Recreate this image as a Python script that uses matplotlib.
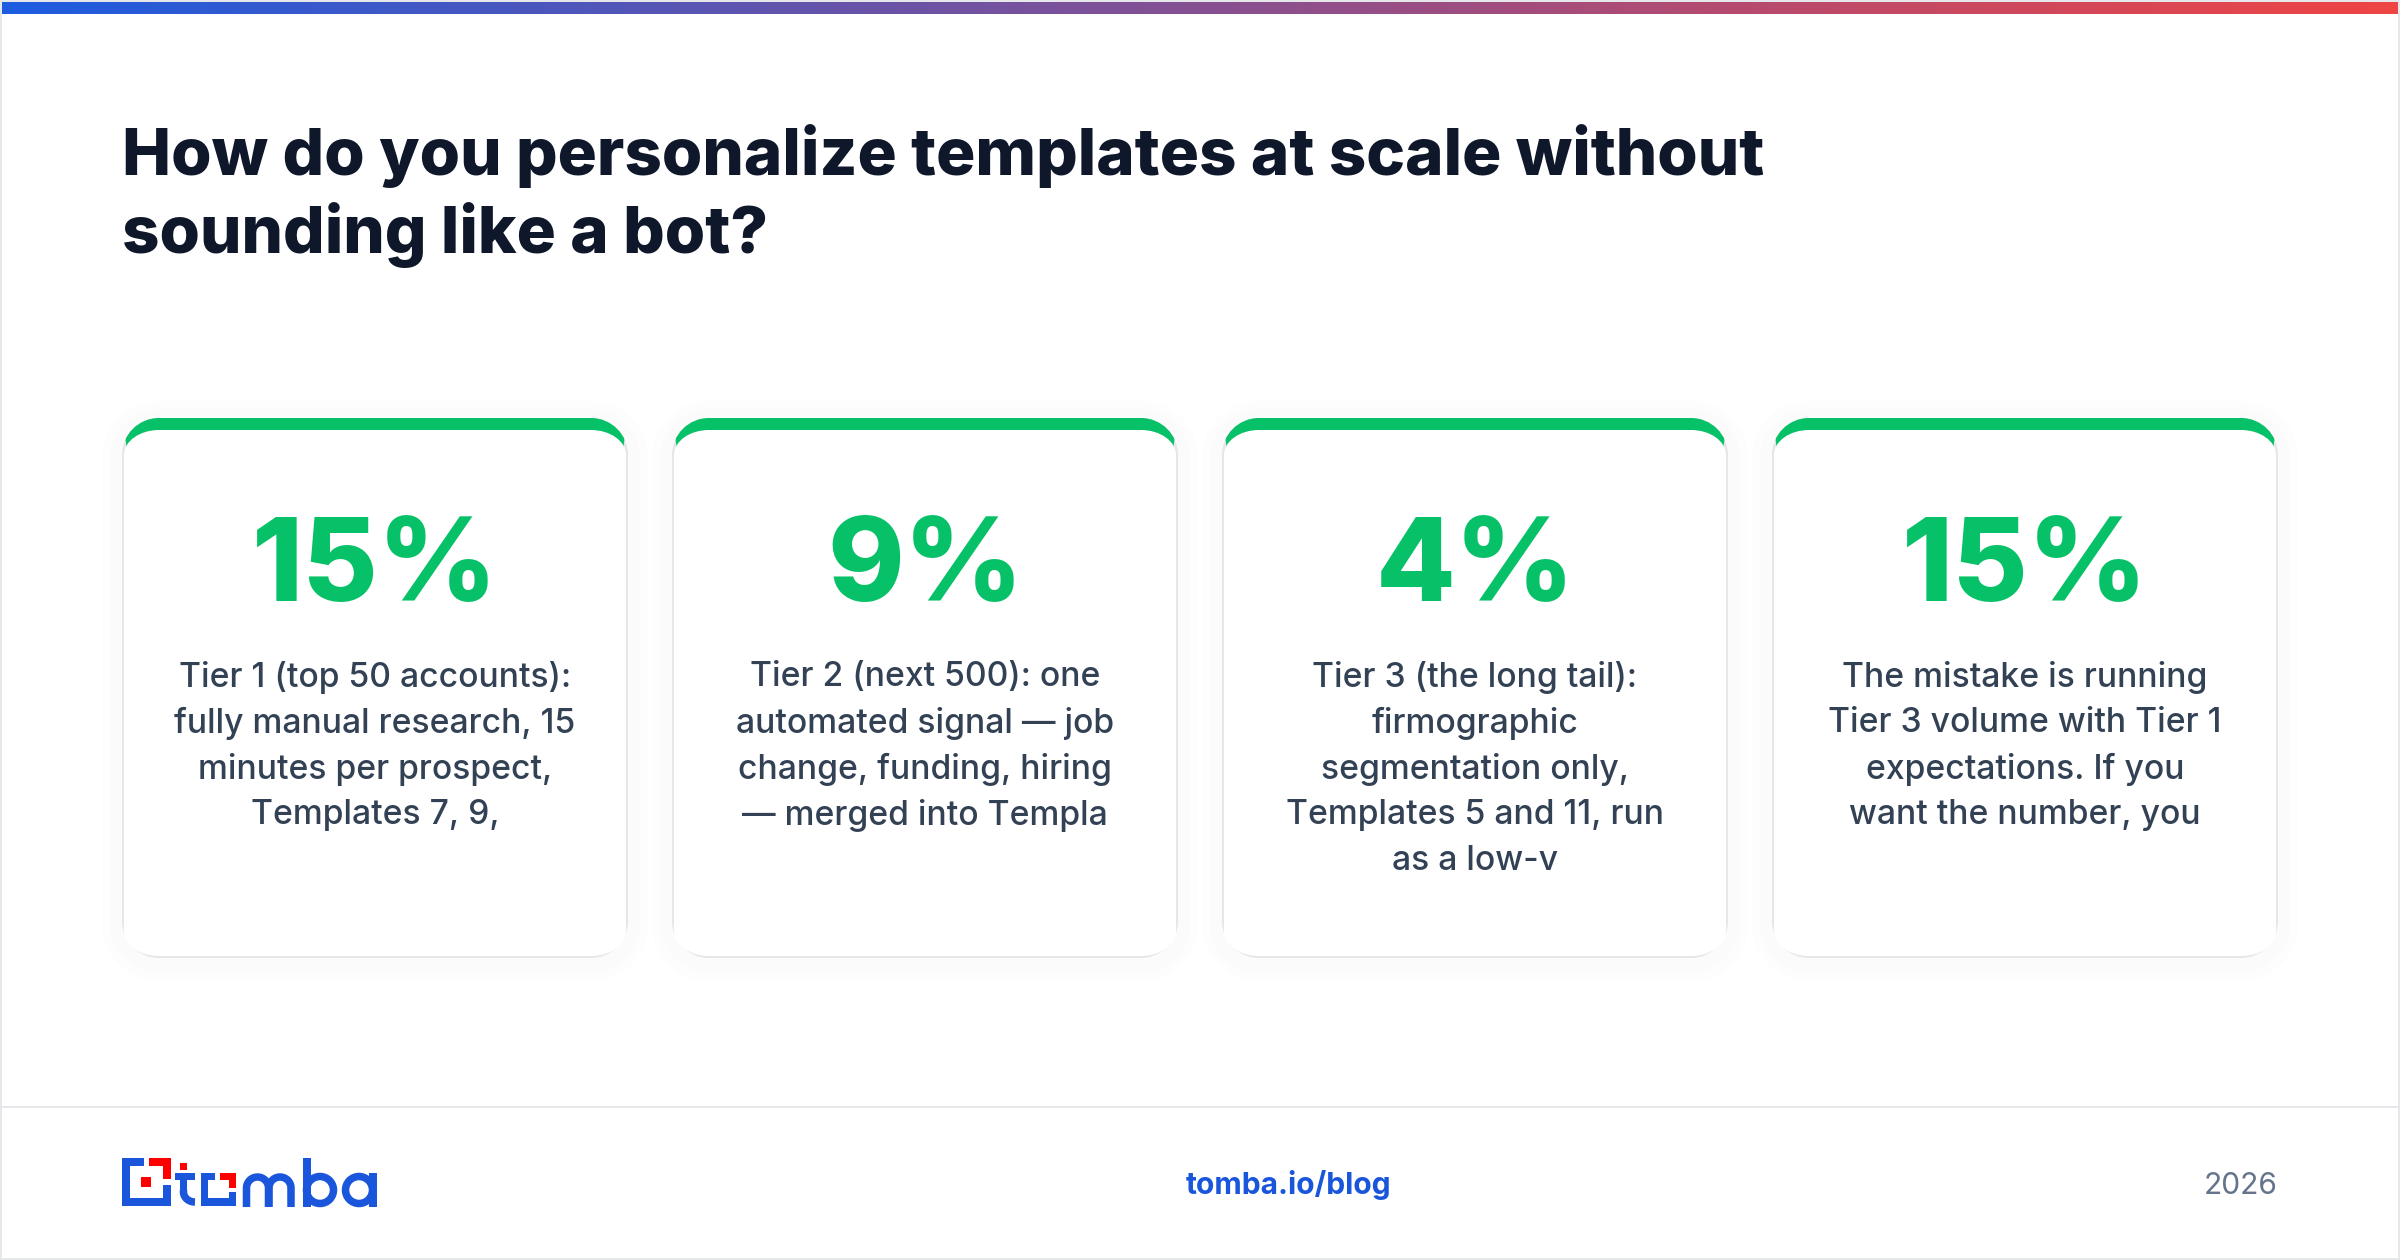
import numpy as np
import matplotlib
matplotlib.use('Agg')
import matplotlib.pyplot as plt
from matplotlib.path import Path
from matplotlib.patches import PathPatch, Rectangle, Polygon, Circle
from matplotlib.colors import LinearSegmentedColormap

# Card contents
title_lines = ['How do you personalize templates at scale without', 'sounding like a bot?']
card_values = ['15%', '9%', '4%', '15%']
card_texts = [
    ['Tier 1 (top 50 accounts):', 'fully manual research, 15', 'minutes per prospect,', 'Templates 7, 9,'],
    ['Tier 2 (next 500): one', 'automated signal \u2014 job', 'change, funding, hiring', '\u2014 merged into Templa'],
    ['Tier 3 (the long tail):', 'firmographic', 'segmentation only,', 'Templates 5 and 11, run', 'as a low-v'],
    ['The mistake is running', 'Tier 3 volume with Tier 1', 'expectations. If you', 'want the number, you'],
]
footer_link = 'tomba.io/blog'
footer_year = '2026'

GREEN = '#06c167'
NAVY = '#0f172a'
SLATE = '#334155'
BLUE = '#1a56db'
RED = '#ff0000'
BORDER = '#e5e7eb'

plt.rcParams['font.family'] = ['Inter', 'DejaVu Sans']
PT = 72 / 200  # one pixel in points


def rounded(x0, y0, x1, y1, rx, ry):
    k = 0.5523
    verts = [(x0 + rx, y0), (x1 - rx, y0),
             (x1 - rx + k * rx, y0), (x1, y0 + ry - k * ry), (x1, y0 + ry),
             (x1, y1 - ry),
             (x1, y1 - ry + k * ry), (x1 - rx + k * rx, y1), (x1 - rx, y1),
             (x0 + rx, y1),
             (x0 + rx - k * rx, y1), (x0, y1 - ry + k * ry), (x0, y1 - ry),
             (x0, y0 + ry),
             (x0, y0 + ry - k * ry), (x0 + rx - k * rx, y0), (x0 + rx, y0),
             (x0 + rx, y0)]
    codes = [Path.MOVETO, Path.LINETO,
             Path.CURVE4, Path.CURVE4, Path.CURVE4,
             Path.LINETO,
             Path.CURVE4, Path.CURVE4, Path.CURVE4,
             Path.LINETO,
             Path.CURVE4, Path.CURVE4, Path.CURVE4,
             Path.LINETO,
             Path.CURVE4, Path.CURVE4, Path.CURVE4,
             Path.CLOSEPOLY]
    return Path(verts, codes)


fig = plt.figure(figsize=(12, 6.3), dpi=200, facecolor='white')
ax = fig.add_axes([0, 0, 1, 1])
ax.set_xlim(0, 2400)
ax.set_ylim(1260, 0)
ax.axis('off')

# gradient strip on top
cmap = LinearSegmentedColormap.from_list('strip', ['#1d5ce0', '#ef4444'])
ax.imshow(np.linspace(0, 1, 600).reshape(1, -1), cmap=cmap, extent=(2, 2398, 14, 2), aspect='auto', zorder=3)
ax.set_xlim(0, 2400)
ax.set_ylim(1260, 0)

# frame and footer line
ax.add_patch(Rectangle((1, 1), 2398, 1258, fill=False, ec=BORDER, lw=2 * PT, zorder=2))
ax.plot([0, 2400], [1107, 1107], color=BORDER, lw=2 * PT, zorder=2, solid_capstyle='butt')

for i, t in enumerate(title_lines):
    ax.text(122, 156 + i * 79, t, fontsize=65.5 * PT, fontweight=800, color=NAVY, va='center', ha='left')

# cards
x_starts = [122, 672, 1222, 1772]
W = 506
Y0, Y1 = 418, 958
R = 37
for x, val, lines in zip(x_starts, card_values, card_texts):
    outer = rounded(x, Y0, x + W, Y1, R, R)
    for lw, a in zip([40, 24], [0.008, 0.008]):
        ax.add_patch(PathPatch(rounded(x, Y0 + 3, x + W, Y1 + 3, R, R), fc='none', ec='#1e293b',
                               lw=lw * PT, alpha=a, zorder=4))
    ax.add_patch(PathPatch(outer, fc=BORDER, ec='none', zorder=5))
    green = PathPatch(outer, fc=GREEN, ec='none', zorder=6)
    ax.add_patch(green)
    clip = Polygon([(x, Y0), (x + W, Y0), (x + W - 6, Y0 + R), (x + 6, Y0 + R)], transform=ax.transData)
    green.set_clip_path(clip)
    inner = rounded(x + 2, Y0 + 12, x + W - 2, Y1 - 2, R - 2, R - 12)
    ax.add_patch(PathPatch(inner, fc='white', ec='none', zorder=7))
    cx = x + W / 2
    ax.text(cx, 571, val, fontsize=116 * PT, fontweight=800, color=GREEN, ha='center', va='center', zorder=8)
    for j, line in enumerate(lines):
        ax.text(cx, 677 + j * 46, line, fontsize=33.7 * PT, fontweight=500, color=SLATE, ha='center', va='center', zorder=8)


# logo pieces, in pixels
def box(x0, y0, x1, y1, color):
    ax.add_patch(Rectangle((x0, y0), x1 - x0, y1 - y0, fc=color, ec='none', zorder=4))


for b in [(122, 1158, 130, 1206), (122, 1158, 144, 1166), (122, 1198, 171, 1206), (163, 1185, 171, 1206),
          (175, 1173, 195, 1180), (180, 1173, 187, 1192),
          (201, 1173, 215, 1180), (201, 1173, 208, 1206), (201, 1198, 236, 1206), (229, 1192, 236, 1206),
          (303, 1158, 310.5, 1207), (369, 1173, 376.5, 1207)]:
    box(*b, BLUE)
for b in [(149, 1158, 171, 1166), (163, 1158, 171, 1179), (141, 1177, 151, 1187),
          (180, 1163, 187, 1170), (220, 1173, 236, 1180), (229, 1173, 236, 1188)]:
    box(*b, RED)

# foot of the t
th = np.linspace(np.pi, np.pi / 2, 20)
ax.plot(np.r_[183.5, 195 - 11.5 + 11.5 * np.cos(th) + 11.5, 195], np.r_[1190, 1202 - 10 + 10 * np.sin(th) * 1, 1202],
        color=BLUE, lw=7.5 * PT, solid_capstyle='butt', zorder=4)

# arches of the m
th = np.linspace(np.pi, 0, 30)
for cx in [257.5, 280]:
    ax.plot(np.r_[cx - 11, cx + 11 * np.cos(th), cx + 11], np.r_[1207, 1188 - 11 * np.sin(th), 1207],
            color=BLUE, lw=7.5 * PT, solid_capstyle='butt', zorder=4)
# rings of the b and a
for cx in [320, 359]:
    ax.add_patch(Circle((cx, 1190), 13.5, fc='none', ec=BLUE, lw=7.5 * PT, zorder=4))

ax.text(1289, 1185, footer_link, fontsize=30 * PT, fontweight='bold', color=BLUE, ha='center', va='center')
ax.text(2278, 1186, footer_year, fontsize=30 * PT, color='#64748b', ha='right', va='center')

fig.savefig('out.png', dpi=200)
